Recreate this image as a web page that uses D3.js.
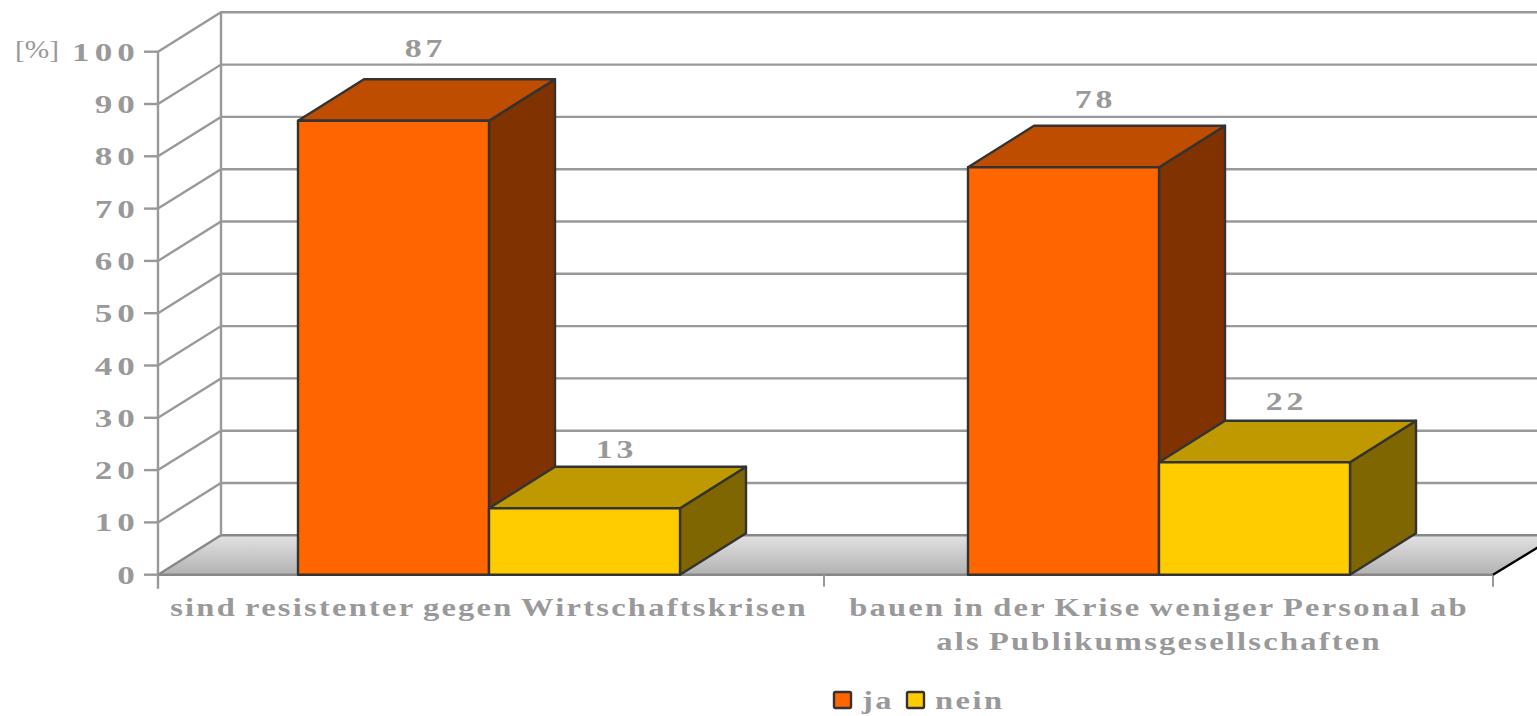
<!DOCTYPE html>
<html><head><meta charset="utf-8">
<script src="https://cdn.jsdelivr.net/npm/d3@7"></script>
<style>html,body{margin:0;padding:0;background:#fff;overflow:hidden}
text{font-family:"Liberation Serif",serif;font-weight:bold;fill:#999}</style></head>
<body><svg id="c" width="1537" height="716"></svg>
<script>
const categories=[["sind resistenter gegen Wirtschaftskrisen"],["bauen in der Krise weniger Personal ab","als Publikumsgesellschaften"]];
const seriesNames=["ja","nein"];
const jaValues=[86.8,77.9];
const neinValues=[12.7,21.5];
const jaLabels=["87","78"];
const neinLabels=["13","22"];
const yTicks=[0,10,20,30,40,50,60,70,80,90,100];
const yUnit="[%]";

const W=1537,H=716,pLeft=158,pRight=1493,pTop=51.7,pBottom=574.7,dx=63,dy=-39.4,bdx=66,bdy=-41.5;
const labelLift={ja:[73,68],nein:[59,61]};
const colors={ja:{f:"#ff6600",t:"#bf4d00",s:"#803300"},nein:{f:"#ffcc00",t:"#bf9900",s:"#806600"}};
const svg=d3.select("#c");
const y=d3.scaleLinear().domain([0,100]).range([pBottom,pTop]);
const x0=d3.scaleBand().domain(d3.range(categories.length)).range([154,1494]);
const x1=d3.scaleBand().domain(seriesNames).range([0,382]);
const grad=svg.append("defs").append("linearGradient").attr("id","floor").attr("x1",0).attr("x2",0).attr("y1",0).attr("y2",1);
grad.append("stop").attr("offset",0).attr("stop-color","#e2e2e2");
grad.append("stop").attr("offset",1).attr("stop-color","#b2b2b2");
const grid="#999";
const line=(p,c,w)=>svg.append("path").attr("d",d3.line()(p)).attr("fill","none").attr("stroke",c).attr("stroke-width",w);
// stretched wide serif text
const label=(s,px,py,anchor="start",ls=1.7,sx=1.25,ws=0)=>svg.append("text")
  .attr("transform",`translate(${px},${py}) scale(${sx},1)`).attr("text-anchor",anchor)
  .style("font-size","26px").style("letter-spacing",ls+"px").style("word-spacing",ws+"px").text(s);
// floor
svg.append("path").attr("d",d3.line()([[pLeft,pBottom],[pLeft+dx,pBottom+dy],[W+2,pBottom+dy],[W+2,pBottom-28],[pRight,pBottom]])+"Z").attr("fill","url(#floor)");
// walls and gridlines
yTicks.forEach(t=>{
  const v=y(t);
  line([[pLeft,v],[pLeft+dx,v+dy],[W,v+dy]],t===0?"#888":grid,2.4);
  line([[pLeft-14,v],[pLeft,v]],grid,2.4);
  label(t,pLeft-18,v+9,"end",3.8,1.35);
});
line([[pLeft,pTop],[pLeft,pBottom+14]],grid,2.4);
line([[pLeft+dx,pTop+dy],[pLeft+dx,pBottom+dy]],grid,2.4);
line([[pLeft,pBottom],[pRight,pBottom]],"#888",2.6);
[pLeft,x0(1),pRight].forEach(v=>line([[v,pBottom],[v,pBottom+12]],grid,2));
line([[pRight,pBottom],[W+2,pBottom-28]],"#000",2.4);
label(yUnit,15,58,"start",0,1.13).style("font-weight","normal");
// bars
const barW=x1.bandwidth();
const stroke="#333";
const drawBar=(name,val,lab,i)=>{
  const c=colors[name],xa=x0(i)+x0.bandwidth()/2-191+x1(name),xb=xa+barW,yt=y(val),yb=y(0);
  const g=svg.append("g").attr("stroke",stroke).attr("stroke-width",2.4).attr("stroke-linejoin","round");
  g.append("path").attr("d",d3.line()([[xb,yt],[xb+bdx,yt+bdy],[xb+bdx,yb+bdy],[xb,yb]])+"Z").attr("fill",c.s);
  g.append("path").attr("d",d3.line()([[xa,yt],[xa+bdx,yt+bdy],[xb+bdx,yt+bdy],[xb,yt]])+"Z").attr("fill",c.t);
  g.append("rect").attr("x",xa).attr("y",yt).attr("width",barW).attr("height",yb-yt).attr("fill",c.f);
  label(lab,xa+barW/2+bdx/2-1,yt-labelLift[name][i]+9,"middle",3,1.3);
};
categories.forEach((c,i)=>{
  drawBar("ja",jaValues[i],jaLabels[i],i);
  drawBar("nein",neinValues[i],neinLabels[i],i);
});
// category labels
categories.forEach((c,i)=>c.forEach((s,j)=>{
  label(s,i===0?489:1159,616+j*34,"middle",1.8,1.25,-1.8);
}));
// legend
const lx=[834,907],tx=[862,935];
seriesNames.forEach((n,i)=>{
  svg.append("rect").attr("x",lx[i]).attr("y",692).attr("width",17).attr("height",16).attr("rx",1.5)
    .attr("fill",colors[n].f).attr("stroke",stroke).attr("stroke-width",2.4);
  label(n,tx[i],709,"start",2);
});
</script></body></html>
